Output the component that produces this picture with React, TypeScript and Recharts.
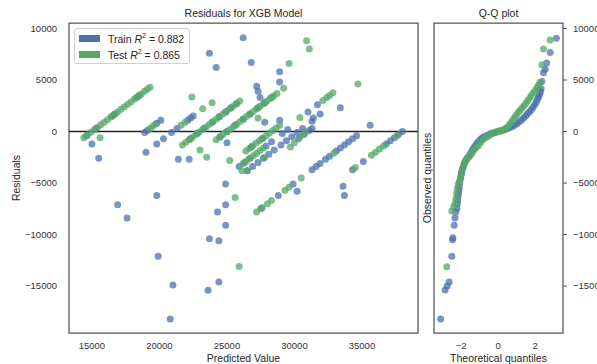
import React from 'react';
import { ScatterChart, Scatter, XAxis, YAxis, ReferenceLine, ReferenceArea } from 'recharts';

const BLUE = '#4c72b0';
const GREEN = '#55a868';
const FONT = '"Liberation Sans", Arial, sans-serif';

// [predicted value, residual]
const trainResiduals: [number, number][] = [
  [14600, -400], [15300, 300], [16500, 1500], [16700, 1700], [18300, 3300], [18500, 3500],
  [15000, -1200], [15500, -2600],
  [18900, -100], [19100, 100], [19800, 800], [20100, 1100], [19000, -2000],
  [19800, -1200], [20300, -700], [20900, -100], [21300, 300], [22100, 1100], [22300, 1300], [22500, 1500],
  [21400, -2700], [22200, -2700],
  [22300, -700], [22800, -200], [23300, 300], [23900, 900], [24400, 1400], [24900, 1900], [25300, 2300], [25700, 2700],
  [24500, -500], [25000, 0], [25600, 600], [26200, 1200], [26700, 1700], [27300, 2300], [27800, 2800], [28300, 3300],
  [27200, 4400], [27300, 3900], [27450, 3300], [25000, -1100],
  [26800, -1500], [27600, -700],
  [25900, -3400], [26300, -3000], [26700, -2600], [27900, -1400], [28300, -1000], [29100, -200], [29500, 200],
  [26500, -3800], [26900, -3400], [27300, -3000], [27700, -2600], [28100, -2200], [28500, -1800], [29000, -1300],
  [29400, -900], [29800, -500], [30200, -100], [30600, 300],
  [30300, -700], [30700, -300], [31100, 100], [31300, 300],
  [31000, 1900], [31900, 1700], [31700, 2600], [31400, 1300], [31300, 1000],
  [33400, 2300], [35600, 600],
  [26200, 9100], [23700, 7600], [24200, 6200], [26800, 6700], [28900, 5800], [28900, 4800], [27800, 900], [28900, 1100],
  [27600, -7400], [28800, -6200], [29900, -5100], [31300, -3700], [31600, -3400], [31900, -3100], [32300, -2700],
  [32600, -2400], [33100, -1900], [33400, -1600], [33700, -1300], [34000, -1000], [34300, -700], [34600, -400],
  [30200, -5800], [33600, -5300], [33700, -6200],
  [34300, -3700], [35100, -2900], [36800, -1200], [37100, -900], [37400, -600], [37700, -300], [38000, 0],
  [16900, -7100], [17600, -8400], [19800, -6200], [19900, -12100], [21000, -14900], [20800, -18200],
  [23600, -15400], [24400, -14600], [23700, -10400], [24400, -10600], [24900, -9100], [24300, -7800],
  [24900, -7100], [24900, -5100],
];

const testResiduals: [number, number][] = [
  [14400, -600], [14650, -350], [14900, -100], [15150, 150], [15400, 400], [15650, 650], [15900, 900],
  [16150, 1150], [16400, 1400], [16650, 1650], [16900, 1900], [17150, 2150], [17400, 2400], [17650, 2650],
  [17900, 2900], [18150, 3150], [18400, 3400], [18650, 3650], [18900, 3900], [19100, 4100], [19300, 4300],
  [15600, -600],
  [19300, 300], [19500, 500], [19700, 700],
  [21600, 600], [21900, 900],
  [22400, 3350], [23200, 2200], [23900, 2800],
  [21700, -1300], [21950, -1050], [22200, -800], [22450, -550], [22700, -300], [22950, -50], [23200, 200],
  [23450, 450], [23700, 700], [23950, 950], [24200, 1200], [24450, 1450], [24700, 1700], [24950, 1950],
  [25200, 2200], [25450, 2450], [25700, 2700], [25950, 2950],
  [23000, -1800], [23500, -2500], [25200, -2800],
  [24200, -800], [24450, -550], [24700, -300], [24950, -50], [25200, 200], [25450, 450], [25700, 700],
  [25950, 950], [26200, 1200], [26450, 1450], [26700, 1700], [26950, 1950], [27200, 2200], [27450, 2450],
  [27700, 2700], [27950, 2950], [28200, 3200], [28450, 3450], [28700, 3700],
  [27300, 1300], [29600, 6600], [29200, 4200], [30900, 8800], [31100, 8000], [34700, 4600],
  [32100, 3000], [32400, 3300], [32600, 3500], [32850, 3750], [30400, 1350],
  [29700, -1500], [30000, -1100], [30400, -500], [30800, -100],
  [26400, -1900], [26650, -1650], [26900, -1400], [27150, -1150], [27400, -900], [27650, -650], [27900, -400],
  [28150, -150], [28400, 100], [28650, 350], [28900, 600],
  [26200, -3100], [26450, -2850], [26700, -2600], [26950, -2350], [27200, -2100], [27450, -1850], [27700, -1600],
  [26500, -3800], [27800, -2500],
  [27200, -7800], [27500, -7500], [28000, -7000], [28300, -6700], [29300, -5700], [29600, -5400], [30500, -4500], [32900, -2100],
  [34500, -3500], [35700, -2300], [36000, -2000], [36300, -1700], [36600, -1400], [37600, -400],
  [25600, -6400], [25900, -13100], [26100, -3800],
];

// [theoretical quantile, observed quantile]
const trainQQ: [number, number][] = [
  [-3.1, -18180], [-2.86, -15380], [-2.75, -15000], [-2.64, -14600], [-2.5, -12100], [-2.46, -10500],
  [-2.44, -10300], [-2.37, -9100], [-2.33, -8400], [-2.28, -7800], [-2.22, -7450], [-2.2, -7000],
  [-2.18, -6700], [-2.16, -6300], [-2.14, -6000], [-2.12, -5700], [-2.1, -5400], [-2.07, -5000],
  [-2.04, -4600], [-2.01, -4300], [-1.98, -4000], [-1.94, -3700], [-1.88, -3400], [-1.82, -3100],
  [-1.75, -2850], [-1.67, -2600], [-1.58, -2400], [-1.5, -2150], [-1.42, -1900], [-1.34, -1650],
  [-1.25, -1400], [-1.15, -1150], [-1.05, -950], [-0.95, -750], [-0.85, -600], [-0.75, -500],
  [-0.62, -380], [-0.5, -280], [-0.38, -200], [-0.25, -120], [-0.12, -50], [0, 0], [0.12, 60],
  [0.25, 130], [0.38, 200], [0.5, 280], [0.62, 380], [0.75, 470], [0.87, 580], [1.0, 750],
  [1.12, 920], [1.25, 1100], [1.37, 1300], [1.48, 1500], [1.58, 1700], [1.68, 1900], [1.78, 2100],
  [1.88, 2350], [1.97, 2600], [2.05, 2850], [2.12, 3100], [2.18, 3350], [2.24, 3600], [2.28, 3850],
  [2.32, 4150], [2.36, 4850], [2.45, 5700], [2.54, 6050], [2.62, 6650], [2.81, 7670], [3.14, 9060],
];

const testQQ: [number, number][] = [
  [-2.77, -13120], [-2.5, -7700], [-2.4, -7300], [-2.32, -6950], [-2.28, -6500], [-2.24, -6000],
  [-2.2, -5500], [-2.15, -5100], [-2.08, -4800], [-2.02, -4500], [-1.96, -4000], [-1.9, -3500],
  [-1.84, -3100], [-1.76, -2800], [-1.68, -2650], [-1.58, -2450], [-1.48, -2250], [-1.38, -2000],
  [-1.28, -1750], [-1.18, -1550], [-1.06, -1350], [-0.94, -1050], [-0.82, -800], [-0.7, -620],
  [-0.58, -480], [-0.46, -350], [-0.34, -240], [-0.22, -140], [-0.1, -60], [0.02, 20], [0.14, 100],
  [0.26, 180], [0.38, 270], [0.5, 450], [0.6, 650], [0.7, 900], [0.8, 1150], [0.9, 1400], [1.0, 1650],
  [1.1, 1900], [1.2, 2100], [1.3, 2300], [1.4, 2500], [1.5, 2750], [1.6, 3000], [1.7, 3250],
  [1.8, 3500], [1.9, 3750], [2.0, 4000], [2.1, 4250], [2.18, 4500], [2.25, 4750], [2.36, 6480],
  [2.45, 8000], [2.81, 8870],
];

const residualTicks = [-15000, -10000, -5000, 0, 5000, 10000];
const predictedTicks = [15000, 20000, 25000, 30000, 35000];
const quantileTicks = [-2, 0, 2];

const Y_DOMAIN: [number, number] = [-19550, 10530];
const X_DOMAIN: [number, number] = [13300, 39150];
const Q_DOMAIN: [number, number] = [-3.46, 3.5];

const toPoints = (rows: [number, number][]) => rows.map(([x, y]) => ({ x, y }));
const minus = (v: number) => String(v).replace('-', '\u2212');

const dot = (color: string) => (props: any) => (
  <circle cx={props.cx} cy={props.cy} r={3.5} fill={color} fillOpacity={0.75} />
);

const tickStyle = { fontSize: 9.5, fill: '#333', fontFamily: FONT };

const textStyle: React.CSSProperties = {
  position: 'absolute',
  fontFamily: FONT,
  fontSize: 10.5,
  lineHeight: '11px',
  color: '#262626',
  whiteSpace: 'nowrap',
};

const centered = (cx: number, top: number): React.CSSProperties => ({
  ...textStyle,
  left: cx,
  top,
  transform: 'translateX(-50%)',
});

const rotated = (cx: number, cy: number): React.CSSProperties => ({
  ...textStyle,
  left: cx,
  top: cy,
  transform: 'translate(-50%, -50%) rotate(-90deg)',
});

const LegendRow = ({ color, name, score }: { color: string; name: string; score: string }) => (
  <div style={{ display: 'flex', alignItems: 'center', height: 16 }}>
    <div style={{ width: 21, height: 7, background: color, marginRight: 8 }} />
    <span style={{ fontFamily: FONT, fontSize: 10.5, color: '#262626' }}>
      {name} <i>R</i>
      <sup style={{ fontSize: 7 }}>2</sup> = {score}
    </span>
  </div>
);

export default function App() {
  const train = toPoints(trainResiduals);
  const test = toPoints(testResiduals);
  const trainQ = toPoints(trainQQ);
  const testQ = toPoints(testQQ);

  return (
    <div style={{ position: 'absolute', left: 0, top: 0, width: 597, height: 364, background: '#fff' }}>
      <div style={{ position: 'absolute', left: 0, top: 0 }}>
        <ScatterChart width={597} height={364} margin={{ top: 23, right: 179, bottom: 0, left: 0 }}>
          <XAxis
            type="number"
            dataKey="x"
            domain={X_DOMAIN}
            ticks={predictedTicks}
            height={31}
            tickLine={false}
            axisLine={false}
            tickMargin={3}
            tick={tickStyle}
            allowDataOverflow
          />
          <YAxis
            type="number"
            dataKey="y"
            domain={Y_DOMAIN}
            ticks={residualTicks}
            width={69}
            tickLine={false}
            axisLine={false}
            tickMargin={6}
            tick={tickStyle}
            tickFormatter={minus}
            allowDataOverflow
          />
          <Scatter data={train} shape={dot(BLUE)} isAnimationActive={false} />
          <Scatter data={test} shape={dot(GREEN)} isAnimationActive={false} />
          <ReferenceLine y={0} stroke="#222" strokeWidth={1.5} />
          <ReferenceArea
            x1={X_DOMAIN[0]}
            x2={X_DOMAIN[1]}
            y1={Y_DOMAIN[0]}
            y2={Y_DOMAIN[1]}
            fill="none"
            stroke="#555"
            strokeWidth={1.25}
          />
        </ScatterChart>
      </div>
      <div style={{ position: 'absolute', left: 0, top: 0 }}>
        <ScatterChart width={597} height={364} margin={{ top: 23, right: 0, bottom: 0, left: 434 }}>
          <XAxis
            type="number"
            dataKey="x"
            domain={Q_DOMAIN}
            ticks={quantileTicks}
            height={31}
            tickLine={false}
            axisLine={false}
            tickMargin={3}
            tick={tickStyle}
            tickFormatter={minus}
            allowDataOverflow
          />
          <YAxis
            type="number"
            dataKey="y"
            orientation="right"
            domain={Y_DOMAIN}
            ticks={residualTicks}
            width={34}
            tickSize={4}
            tickMargin={6}
            tickLine={{ stroke: '#555' }}
            axisLine={false}
            tick={tickStyle}
            tickFormatter={minus}
            allowDataOverflow
          />
          <Scatter data={trainQ} shape={dot(BLUE)} isAnimationActive={false} />
          <Scatter data={testQ} shape={dot(GREEN)} isAnimationActive={false} />
          <ReferenceArea
            x1={Q_DOMAIN[0]}
            x2={Q_DOMAIN[1]}
            y1={Y_DOMAIN[0]}
            y2={Y_DOMAIN[1]}
            fill="none"
            stroke="#555"
            strokeWidth={1.25}
          />
        </ScatterChart>
      </div>

      <div style={centered(243.5, 8)}>Residuals for XGB Model</div>
      <div style={centered(498.5, 8)}>Q-Q plot</div>
      <div style={centered(243.5, 353)}>Predicted Value</div>
      <div style={centered(498.5, 353)}>Theoretical quantiles</div>
      <div style={rotated(16, 178)}>Residuals</div>
      <div style={rotated(427, 178)}>Observed quantiles</div>

      <div
        style={{
          position: 'absolute',
          left: 74,
          top: 28,
          width: 110,
          padding: '1px 0 1px 4px',
          border: '1px solid #d0d0d0',
          borderRadius: 3,
          background: 'rgba(255,255,255,0.8)',
        }}
      >
        <LegendRow color={BLUE} name="Train" score="0.882" />
        <LegendRow color={GREEN} name="Test" score="0.865" />
      </div>
    </div>
  );
}
